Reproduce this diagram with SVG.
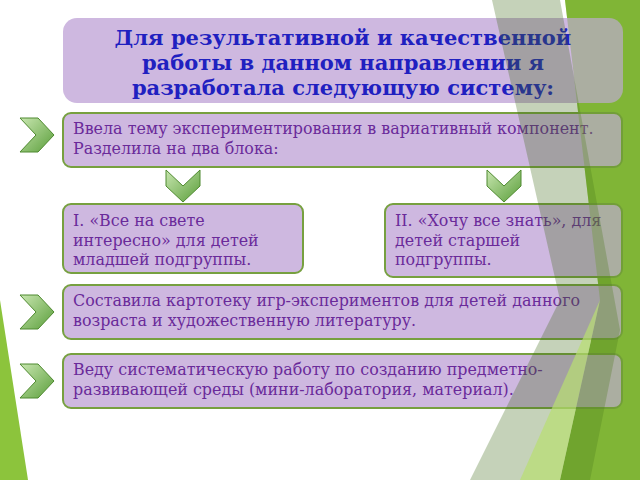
<svg xmlns="http://www.w3.org/2000/svg" width="640" height="480" viewBox="0 0 640 480">
<defs>
<linearGradient id="chev" x1="0" y1="0" x2="1" y2="1"><stop offset="0" stop-color="#c8e6b0"/><stop offset="1" stop-color="#5a9e3a"/></linearGradient>
<style>
.box{fill:#ceb8e0;stroke:#77a040;stroke-width:2}
.t{font-family:"DejaVu Serif",serif;font-size:15.9px;fill:#6a2a9a}
.h{font-family:"DejaVu Serif",serif;font-size:21px;font-weight:bold;fill:#2020c0;text-anchor:middle}
.ch{fill:url(#chev);stroke:#4f8a30;stroke-width:1}
</style>
</defs>
<rect width="640" height="480" fill="#ffffff"/>
<polygon points="0,300 0,480 28,480" fill="#8cc43c"/>
<polygon points="565,0 640,0 640,480 560,480 600,300" fill="#8cc43c"/>
<g id="title"><rect x="63" y="18" width="560" height="85" rx="14" fill="#ceb8e0"/>
<text class="h" x="343" y="45">Для результативной и качественной</text>
<text class="h" x="343" y="70">работы в данном направлении я</text>
<text class="h" x="343" y="95">разработала следующую систему:</text></g>
<g id="b1"><rect class="box" x="63" y="113" width="559" height="54" rx="8"/>
<text class="t" x="73" y="134">Ввела тему экспериментирования в вариативный компонент.</text>
<text class="t" x="73" y="154">Разделила на два блока:</text></g>
<g id="b2"><rect class="box" x="63" y="204" width="240" height="69" rx="8"/>
<text class="t" x="73" y="226">I. «Все на свете</text>
<text class="t" x="73" y="246">интересно» для детей</text>
<text class="t" x="73" y="265">младшей подгруппы.</text></g>
<g id="b3"><rect class="box" x="385" y="204" width="237" height="73" rx="8"/>
<text class="t" x="395" y="226">II. «Хочу все знать», для</text>
<text class="t" x="395" y="246">детей старшей</text>
<text class="t" x="395" y="265">подгруппы.</text></g>
<g id="b4"><rect class="box" x="63" y="285" width="559" height="54" rx="8"/>
<text class="t" x="73" y="306">Составила картотеку игр-экспериментов для детей данного</text>
<text class="t" x="73" y="326">возраста и художественную литературу.</text></g>
<g id="b5"><rect class="box" x="63" y="354" width="559" height="54" rx="8"/>
<text class="t" x="73" y="375">Веду систематическую работу по созданию предметно-</text>
<text class="t" x="73" y="395">развивающей среды (мини-лаборатория, материал).</text></g>
<g id="connectors">
<polygon class="ch" points="20,118 38,118 54,135 38,152 20,152 36,135"/>
<polygon class="ch" points="20,295 38,295 54,312 38,329 20,329 36,312"/>
<polygon class="ch" points="20,364 38,364 54,381 38,398 20,398 36,381"/>
<polygon class="ch" points="166,170 166,186 183,202 200,186 200,170 183,186"/>
<polygon class="ch" points="487,170 487,186 504,202 521,186 521,170 504,186"/>
</g>
<polygon points="492,0 560,0 620,330 590,480 470,480 560,300" fill="#3e6a18" fill-opacity="0.3"/>
<polygon points="565,0 640,0 640,480 560,480 600,300" fill="#6a9a2a" fill-opacity="0.35"/>
<polygon points="600,300 560,480 520,480" fill="#b8de70" fill-opacity="0.7"/>
</svg>
